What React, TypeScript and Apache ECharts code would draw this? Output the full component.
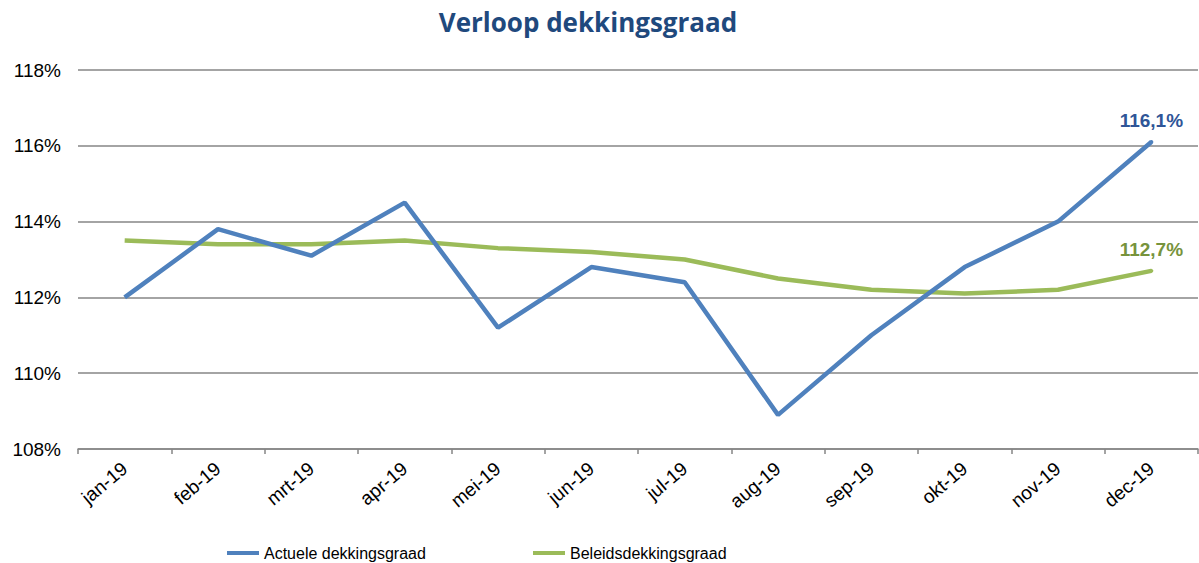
import React, { useEffect, useRef } from "react";
import * as echarts from "echarts";

const categories = ["jan-19","feb-19","mrt-19","apr-19","mei-19","jun-19","jul-19","aug-19","sep-19","okt-19","nov-19","dec-19"];
const actueel = [112.0, 113.8, 113.1, 114.5, 111.2, 112.8, 112.4, 108.9, 111.0, 112.8, 114.0, 116.1];
const beleid = [113.5, 113.4, 113.4, 113.5, 113.3, 113.2, 113.0, 112.5, 112.2, 112.1, 112.2, 112.7];
const seriesNames = ["Actuele dekkingsgraad", "Beleidsdekkingsgraad"];

const fmt = (v: number) => v.toFixed(1).replace(".", ",") + "%";

const withEndLabel = (arr: number[], lineColor: string, color: string) =>
  arr.map((v, i) =>
    i === arr.length - 1
      ? {
          value: v,
          symbol: "circle",
          symbolSize: 4,
          itemStyle: { color: lineColor, borderWidth: 0 },
          label: {
            show: true,
            position: "top",
            distance: 10,
            formatter: fmt(v),
            fontFamily: "Liberation Sans",
            fontWeight: "bold",
            fontSize: 19,
            color,
          },
        }
      : { value: v, symbol: "none" }
  );

export default function App() {
  const ref = useRef<HTMLDivElement>(null);
  useEffect(() => {
    document.body.style.margin = "0";
    const chart = echarts.init(ref.current!, null, { renderer: "svg" });
    const legendText = { fontFamily: "Liberation Sans", fontSize: 16, color: "#000" };
    chart.setOption({
      animation: false,
      backgroundColor: "#ffffff",
      title: {
        text: "Verloop dekkingsgraad",
        left: 583,
        textAlign: "center",
        top: 4,
        textStyle: { fontFamily: "Open Sans", fontWeight: "bold", fontSize: 26, color: "#1F497D" },
      },
      grid: { left: 78, right: 1, top: 70, bottom: 114 },
      legend: [
        {
          data: [seriesNames[0]], left: 222, top: 540, icon: "rect", itemWidth: 32, itemHeight: 4,
          itemGap: 2, textStyle: legendText,
        },
        {
          data: [seriesNames[1]], left: 528, top: 540, icon: "rect", itemWidth: 32, itemHeight: 4,
          textStyle: legendText,
        },
      ],
      xAxis: {
        type: "category",
        data: categories,
        boundaryGap: true,
        axisLine: { lineStyle: { color: "#868686", width: 1.5 } },
        axisTick: { show: true, length: 5, lineStyle: { color: "#868686", width: 1.5 } },
        axisLabel: { rotate: 40, margin: 17, fontFamily: "Liberation Sans", fontSize: 19, color: "#000" },
      },
      yAxis: {
        type: "value",
        min: 108,
        max: 118,
        interval: 2,
        axisLine: { show: false },
        axisTick: { show: false },
        splitLine: { lineStyle: { color: "#868686", width: 1.5 } },
        axisLabel: { margin: 17, formatter: (v: number) => v + "%", fontFamily: "Liberation Sans", fontSize: 19, color: "#000" },
      },
      series: [
        {
          name: seriesNames[0],
          type: "line",
          data: withEndLabel(actueel, "#4F81BD", "#2F5597"),
          color: "#4F81BD",
          showAllSymbol: true,
          lineStyle: { width: 4.5, color: "#4F81BD" },
          z: 3,
        },
        {
          name: seriesNames[1],
          type: "line",
          data: withEndLabel(beleid, "#9BBB59", "#77933C"),
          color: "#9BBB59",
          showAllSymbol: true,
          lineStyle: { width: 4.5, color: "#9BBB59" },
          z: 2,
        },
      ],
    });
    return () => chart.dispose();
  }, []);
  return <div ref={ref} style={{ width: 1199, height: 563 }} />;
}
